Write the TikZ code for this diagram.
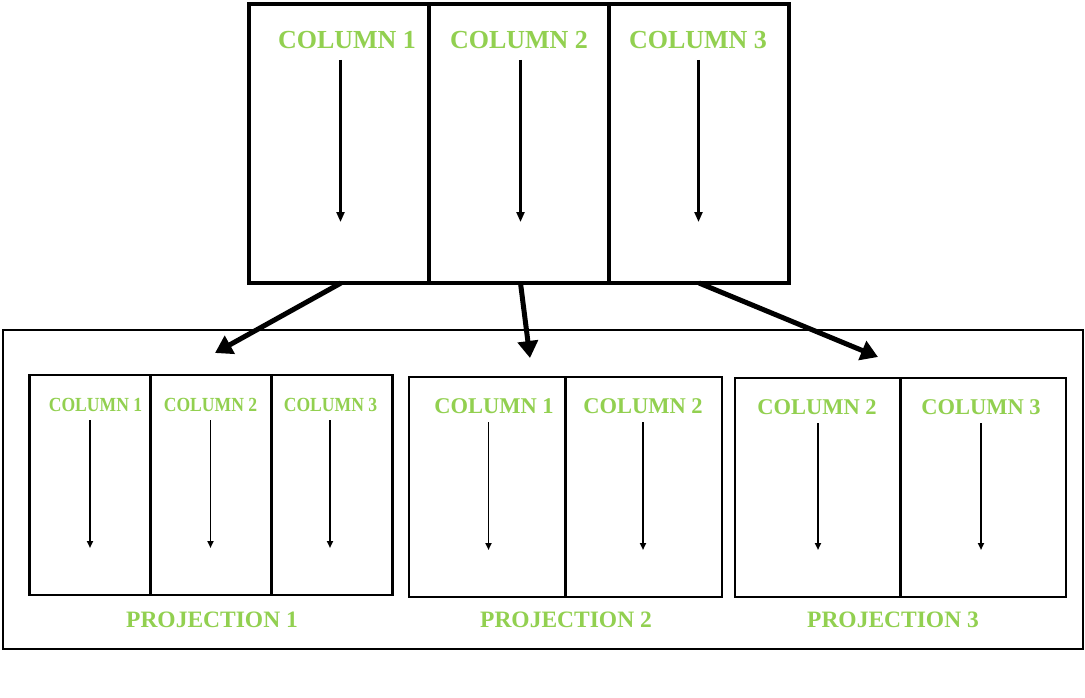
\documentclass[tikz,border=0pt]{standalone}
\usepackage{fontspec}
\setmainfont{Liberation Serif}
\newfontfamily\condfont[FakeStretch=0.88]{Liberation Serif}
\usetikzlibrary{arrows.meta}
\definecolor{colgreen}{RGB}{146,208,80}
\begin{document}
\begin{tikzpicture}[x=1pt,y=-1pt,
  topcell/.style={draw,line width=3.5pt,minimum width=180pt,minimum height=279pt,inner sep=0pt,outer sep=0pt},
  outerbox/.style={draw,line width=2.5pt,minimum width=1080pt,minimum height=319pt,inner sep=0pt,outer sep=0pt},
  pcell/.style={draw,line width=2.5pt,inner sep=0pt,outer sep=0pt},
  toplabel/.style={text=colgreen,font=\bfseries\fontsize{26}{26}\selectfont,inner sep=0pt},
  smalllabel/.style={text=colgreen,font=\condfont\bfseries\fontsize{20}{20}\selectfont,inner sep=0pt},
  midlabel/.style={text=colgreen,font=\bfseries\fontsize{22.5}{22.5}\selectfont,inner sep=0pt},
  projlabel/.style={text=colgreen,font=\bfseries\fontsize{23.5}{23.5}\selectfont,inner sep=0pt},
  toparrow/.style={line width=2.2pt,-{Triangle[length=10pt,width=8pt]}},
  inarrow/.style={line width=1.8pt,-{Triangle[length=7pt,width=6pt]}},
  bigarrow/.style={line width=5pt,-{Triangle[length=17pt,width=20pt]}}
]
\useasboundingbox (0,0) rectangle (1085,698);
\fill[white] (0,0) rectangle (1085,698);

% top table
\node[topcell] (t1) at (339,143.5) {};
\node[topcell] (t2) at (519.5,143.5) {};
\node[topcell] (t3) at (699,143.5) {};
\node[toplabel] (tl1) at (347,40) {COLUMN 1};
\node[toplabel] (tl2) at (519,40) {COLUMN 2};
\node[toplabel] (tl3) at (698,40) {COLUMN 3};
\coordinate (ta1s) at (340.5,60); \coordinate (ta1e) at (340.5,222);
\coordinate (ta2s) at (520.5,60); \coordinate (ta2e) at (520.5,222);
\coordinate (ta3s) at (698.5,60); \coordinate (ta3e) at (698.5,222);
\draw[toparrow] (ta1s) -- (ta1e);
\draw[toparrow] (ta2s) -- (ta2e);
\draw[toparrow] (ta3s) -- (ta3e);

% outer box
\node[outerbox] (outer) at (543,489.5) {};

% projection 1
\node[pcell,minimum width=121pt,minimum height=220pt] (p11) at (89.8,485) {};
\node[pcell,minimum width=121pt,minimum height=220pt] (p12) at (210.8,485) {};
\node[pcell,minimum width=121pt,minimum height=220pt] (p13) at (331.8,485) {};
\node[smalllabel] (p1l1) at (95.5,405) {COLUMN 1};
\node[smalllabel] (p1l2) at (210.5,405) {COLUMN 2};
\node[smalllabel] (p1l3) at (330.5,405) {COLUMN 3};
\coordinate (p1a1s) at (90,420);  \coordinate (p1a1e) at (90,548);
\coordinate (p1a2s) at (210.5,420); \coordinate (p1a2e) at (210.5,548);
\coordinate (p1a3s) at (330,420); \coordinate (p1a3e) at (330,548);
\draw[inarrow] (p1a1s) -- (p1a1e);
\draw[inarrow] (p1a2s) -- (p1a2e);
\draw[inarrow] (p1a3s) -- (p1a3e);
\node[projlabel] (pl1) at (212,620) {PROJECTION 1};

% projection 2
\node[pcell,minimum width=156.5pt,minimum height=220pt] (p21) at (487,487) {};
\node[pcell,minimum width=156.5pt,minimum height=220pt] (p22) at (643.5,487) {};
\node[midlabel] (p2l1) at (494,406) {COLUMN 1};
\node[midlabel] (p2l2) at (643,406) {COLUMN 2};
\coordinate (p2a1s) at (488.5,422); \coordinate (p2a1e) at (488.5,550);
\coordinate (p2a2s) at (643,422); \coordinate (p2a2e) at (643,550);
\draw[inarrow] (p2a1s) -- (p2a1e);
\draw[inarrow] (p2a2s) -- (p2a2e);
\node[projlabel] (pl2) at (566,620) {PROJECTION 2};

% projection 3
\node[pcell,minimum width=165.5pt,minimum height=219pt] (p31) at (817.5,487.5) {};
\node[pcell,minimum width=165.5pt,minimum height=219pt] (p32) at (983,487.5) {};
\node[midlabel] (p3l1) at (817,407) {COLUMN 2};
\node[midlabel] (p3l2) at (981,407) {COLUMN 3};
\coordinate (p3a1s) at (818,423); \coordinate (p3a1e) at (818,550);
\coordinate (p3a2s) at (981,423); \coordinate (p3a2e) at (981,550);
\draw[inarrow] (p3a1s) -- (p3a1e);
\draw[inarrow] (p3a2s) -- (p3a2e);
\node[projlabel] (pl3) at (893,620) {PROJECTION 3};

% big arrows
\coordinate (b1) at (215,353);
\coordinate (b2) at (530,358);
\coordinate (b3) at (878,357);
\draw[bigarrow] ([xshift=2pt]t1.south) -- (b1);
\draw[bigarrow] ([xshift=1pt]t2.south) -- (b2);
\draw[bigarrow] (t3.south) -- (b3);
\end{tikzpicture}
\end{document}
